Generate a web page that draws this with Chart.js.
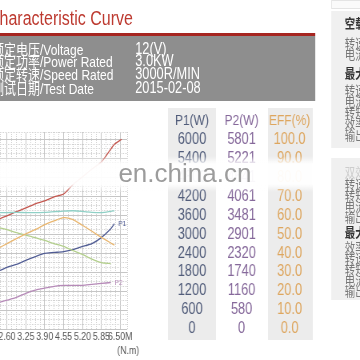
<!DOCTYPE html>
<html>
<head>
<meta charset="utf-8">
<script src="https://cdn.jsdelivr.net/npm/chart.js@4.4.1/dist/chart.umd.min.js"></script>
<style>
  html, body { margin: 0; padding: 0; background: #fff; }
  body { width: 360px; height: 360px; overflow: hidden; position: relative; font-family: Arial, "Liberation Sans", sans-serif; }
  /* source screenshot is squeezed sideways: lay out at 450px wide, squeeze by 0.8 */
  #page { position: absolute; left: 0; top: 0; width: 450px; height: 360px; transform: scaleX(0.8); transform-origin: 0 0; }
  .abs { position: absolute; white-space: nowrap; }
  #title { left: -15px; top: 8px; font-size: 20px; line-height: 20px; color: #bd3a30; }
  #rule { left: 0; top: 33px; width: 394px; height: 3px; background: #a62520; }
  #info { left: 0; top: 36px; width: 394px; height: 65px; background: #8e8e8e; overflow: hidden; }
  .row { position: absolute; color: #fff; font-size: 15px; line-height: 14px; white-space: nowrap; }
  .val { font-size: 16px; }
  .cjk { font-family: "Noto Sans CJK SC", sans-serif; font-size: 15px; }
  #chart { position: absolute; left: 0; top: 104px; }
  #wm { left: 0; top: 156px; width: 392px; height: 36px;
        background: linear-gradient(to bottom, rgba(255,255,255,0) 0%, rgba(255,255,255,0.95) 22%, rgba(255,255,255,0.95) 78%, rgba(255,255,255,0) 100%); }
  #wmText { left: 148px; top: 159px; font-size: 26px; line-height: 28px; color: #9c9c9c; transform: scaleX(1.25); transform-origin: 0 0; }
  .side { position: absolute; left: 414px; width: 40px; background: #f0f0f0; }
  .s { position: absolute; left: 431px; font-family: "Noto Sans CJK SC", sans-serif; font-size: 13px; line-height: 13px; color: #777; white-space: nowrap; }
  .s.b { color: #333; font-weight: bold; }
  .s.f { color: #cdcdcd; }
</style>
</head>
<body>
<div id="page">
  <div class="abs" id="title">Characteristic Curve</div>
  <div class="abs" id="rule"></div>
  <div class="abs" id="info">
    <div class="row" style="left:-10px;top:6px"><span class="cjk">额定电压</span>/Voltage</div>
    <div class="row" style="left:-10px;top:18px"><span class="cjk">额定功率</span>/Power Rated</div>
    <div class="row" style="left:-10px;top:31px"><span class="cjk">额定转速</span>/Speed Rated</div>
    <div class="row" style="left:-10px;top:45px"><span class="cjk">测试日期</span>/Test Date</div>
    <div class="row val" style="left:169px;top:6px">12(V)</div>
    <div class="row val" style="left:169px;top:18px">3.0KW</div>
    <div class="row val" style="left:169px;top:31px">3000R/MIN</div>
    <div class="row val" style="left:169px;top:45px">2015-02-08</div>
  </div>

  <canvas id="chart" width="394" height="256"></canvas>

  <div class="abs" id="wm"></div>
  <div class="abs" id="wmText">en.china.cn</div>

  <div class="side" style="top:0;height:7px;background:#fafafa;border:1px solid #e4e4e4;"></div>
  <div class="side" style="top:11px;height:137px;"></div>
  <div class="side" style="top:158px;height:142px;"></div>
  <div class="s b" style="top:15.5px">空载点</div>
  <div class="s" style="top:35.5px">转速：</div>
  <div class="s" style="top:46.5px">电流：</div>
  <div class="s b" style="top:65.5px">最大功率点</div>
  <div class="s" style="top:82.5px">转速：</div>
  <div class="s" style="top:93.5px">电流：</div>
  <div class="s" style="top:104.5px">转矩：</div>
  <div class="s" style="top:115.5px">效率：</div>
  <div class="s" style="top:127.5px">输出功率：</div>
  <div class="s f" style="top:164.5px">双效率点</div>
  <div class="s" style="top:176.5px">转速：</div>
  <div class="s" style="top:187.5px">转矩：</div>
  <div class="s" style="top:198.5px">电流：</div>
  <div class="s" style="top:209.5px">输出功率：</div>
  <div class="s b" style="top:224.5px">最大转矩点</div>
  <div class="s" style="top:239.5px">效率：</div>
  <div class="s" style="top:250.5px">转速：</div>
  <div class="s" style="top:261.5px">转矩：</div>
  <div class="s" style="top:272.5px">电流：</div>
  <div class="s" style="top:283.5px">输出功率：</div>
</div>

<script>
// torque points (N.m) the curves were read at
const torque = [2.36, 2.60, 2.925, 3.25, 3.575, 3.90, 4.225, 4.55, 4.875, 5.20, 5.525, 5.85, 6.175, 6.30, 6.55];

// curve values, all in P1(W) units of the shared vertical scale
const redCurve    = [3490, 3580, 3710, 3830, 3960, 4050, 4180, 4270, 4570, 4810, 5060, 5280, 5690, 5840, 6000];
const tealCurve   = [3680, 3680, 3690, 3680, 3680, 3690, 3710, 3730, 3740, 3720, 3690, 3680, 3720, 3740, null];
const orangeCurve = [2580, 2700, 2860, 3010, 3140, 3300, 3420, 3520, 3460, 3280, 3090, 2900, 2720, 2650, null];
const greenCurve  = [3200, 3140, 3050, 2970, 2890, 2800, 2700, 2610, 2480, 2360, 2210, 2100, 2070, null, null];
const p1Curve     = [1850, 1950, 2040, 2170, 2290, 2390, 2420, 2450, 2510, 2610, 2700, 2890, 3170, 3330, null];
const p2Curve     = [850, 910, 1000, 1130, 1230, 1290, 1350, 1380, 1380, 1380, 1410, 1440, 1470, null, null];

// tick labels
const xTicks  = [2.60, 3.25, 3.90, 4.55, 5.20, 5.85, 6.50];
const xLabels = ['2.60', '3.25', '3.90', '4.55', '5.20', '5.85', '6.50M'];
const p1Ticks   = [6000, 5400, 4800, 4200, 3600, 3000, 2400, 1800, 1200, 600, 0];
const p2Labels  = ['5801', '5221', '4641', '4061', '3481', '2901', '2320', '1740', '1160', '580', '0'];
const effLabels = ['100.0', '90.0', '80.0', '70.0', '60.0', '50.0', '40.0', '30.0', '20.0', '10.0', '0.0'];

function pts(vals) {
  return torque.map((t, i) => vals[i] == null ? null : { x: t, y: vals[i] }).filter(Boolean);
}

function line(data, color, endLabel) {
  return { data: pts(data), borderColor: color, borderWidth: 1.3, pointRadius: 0, tension: 0.25, fill: false, endLabel: endLabel };
}

Chart.defaults.font.family = 'Arial, "Liberation Sans", sans-serif';

const tablePlugin = {
  id: 'table',
  beforeDraw(chart) {
    const ctx = chart.ctx;
    ctx.save();
    ctx.fillStyle = '#ececec';
    ctx.fillRect(210, 4, 60, 232);
    ctx.fillRect(335, 4, 56, 232);
    ctx.restore();
  },
  afterDraw(chart) {
    const ctx = chart.ctx, y = chart.scales.y, x = chart.scales.x;
    ctx.save();
    ctx.textAlign = 'center';
    ctx.textBaseline = 'middle';
    const cols = [
      { x: 240, head: 'P1(W)', labels: p1Ticks.map(String), color: '#515c7a' },
      { x: 302, head: 'P2(W)', labels: p2Labels, color: '#86699b' },
      { x: 362, head: 'EFF(%)', labels: effLabels, color: '#dea65e' }
    ];
    cols.forEach(c => {
      ctx.fillStyle = c.color;
      ctx.font = '15px Arial';
      ctx.fillText(c.head, c.x, 17);
      ctx.font = '16px Arial';
      c.labels.forEach((l, i) => ctx.fillText(l, c.x, y.getPixelForValue(p1Ticks[i])));
    });
    // unit under the last torque label
    ctx.fillStyle = '#555';
    ctx.font = '11px Arial';
    ctx.fillText('(N.m)', x.getPixelForValue(6.5) + 10, 247);
    // small tags at the end of two curves
    ctx.textAlign = 'left';
    ctx.font = '8px Arial';
    chart.data.datasets.forEach((ds, i) => {
      if (!ds.endLabel) return;
      const meta = chart.getDatasetMeta(i);
      const p = meta.data[meta.data.length - 1];
      ctx.fillStyle = ds.borderColor;
      ctx.fillText(ds.endLabel, p.x + 5, p.y);
    });
    ctx.restore();
  }
};

new Chart(document.getElementById('chart'), {
  type: 'line',
  data: {
    datasets: [
      line(tealCurve, '#8fd0c6'),
      line(orangeCurve, '#e9b66f'),
      line(greenCurve, '#b3cf8c'),
      line(p2Curve, '#b68ab8', 'P2'),
      line(p1Curve, '#4f5b93', 'P1'),
      line(redCurve, '#c4564e')
    ]
  },
  options: {
    responsive: false,
    animation: false,
    devicePixelRatio: 1,
    layout: { padding: { left: 0, top: 28, right: 235, bottom: 0 } },
    plugins: { legend: { display: false }, tooltip: { enabled: false } },
    scales: {
      xm: {
        type: 'linear', position: 'bottom', min: 2.36, max: 6.74,
        ticks: { display: false, stepSize: 0.1625 },
        grid: { color: '#d2d2d2', drawTicks: false },
        border: { display: false, dash: [1, 1] },
        afterFit: s => { s.height = 0; }
      },
      x: {
        type: 'linear', position: 'bottom', min: 2.36, max: 6.74,
        afterBuildTicks: s => { s.ticks = xTicks.map(v => ({ value: v })); },
        ticks: { callback: (v, i) => xLabels[i], color: '#555', font: { size: 11 }, padding: 1, maxRotation: 0, autoSkip: false },
        grid: { color: '#c6c6c6', drawTicks: false },
        border: { display: false },
        afterFit: s => { s.height = 31; s.paddingLeft = 0; s.paddingRight = 0; }
      },
      ym: {
        type: 'linear', position: 'left', min: 0, max: 6230,
        ticks: { display: false, stepSize: 150 },
        grid: { color: '#d2d2d2', drawTicks: false },
        border: { display: false, dash: [1, 1] },
        afterFit: s => { s.width = 0; }
      },
      y: {
        type: 'linear', position: 'left', min: 0, max: 6230,
        afterBuildTicks: s => { s.ticks = p1Ticks.map(v => ({ value: v })); },
        ticks: { display: false },
        grid: { color: '#c6c6c6', drawTicks: false },
        border: { display: false },
        afterFit: s => { s.width = 0; }
      }
    }
  },
  plugins: [tablePlugin]
});
</script>
</body>
</html>
